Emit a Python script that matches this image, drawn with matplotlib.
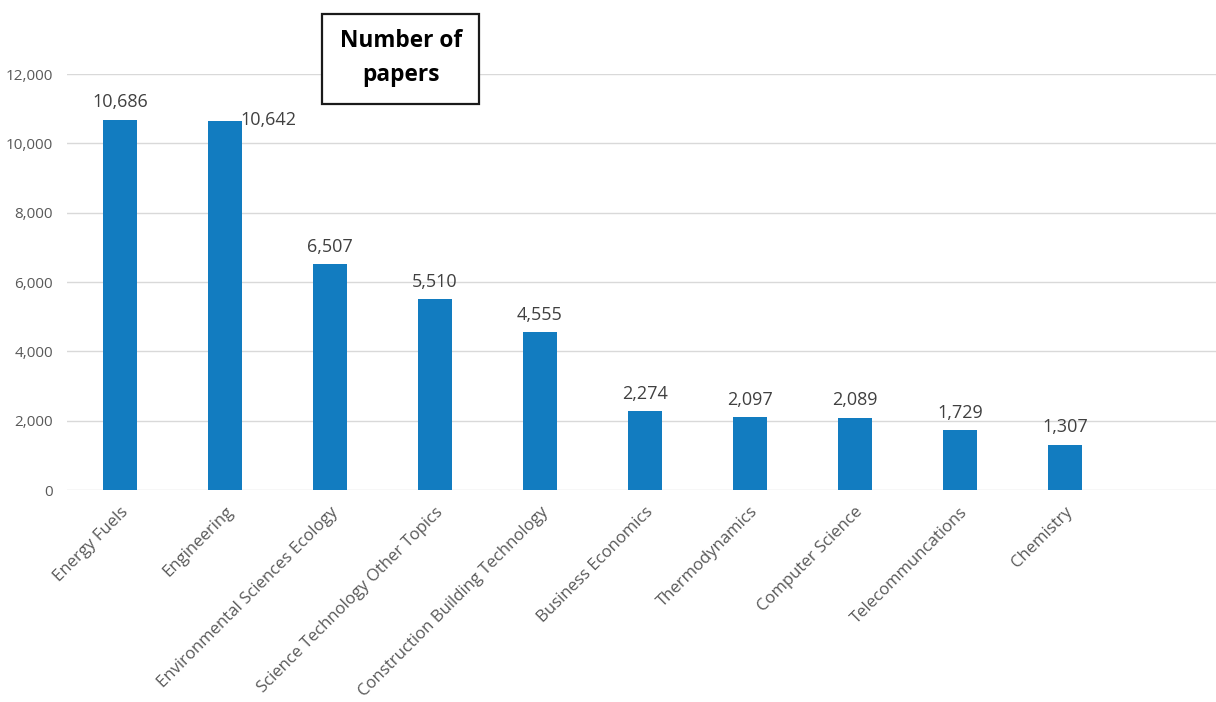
import matplotlib.pyplot as plt
from matplotlib.ticker import FuncFormatter
from matplotlib.patches import Rectangle

categories = ["Energy Fuels", "Engineering", "Environmental Sciences Ecology",
              "Science Technology Other Topics", "Construction Building Technology",
              "Business Economics", "Thermodynamics", "Computer Science",
              "Telecommuncations", "Chemistry"]
papers = [10686, 10642, 6507, 5510, 4555, 2274, 2097, 2089, 1729, 1307]
yticks = [0, 2000, 4000, 6000, 8000, 10000, 12000]

plt.rcParams['font.family'] = ['Open Sans', 'DejaVu Sans']

fig = plt.figure(figsize=(12.16, 7.02), dpi=100)
W, H = 1216, 702
left, right, top, bottom = 67, 1216, 74, 490
ax = fig.add_axes([left / W, 1 - bottom / H, (right - left) / W, (bottom - top) / H])

x = list(range(len(categories)))
ax.bar(x, papers, width=0.324, color='#127CC0', zorder=3)
ax.set_xlim(-0.505, 10.44)
ax.set_ylim(0, 12000)
ax.set_yticks(yticks)
ax.yaxis.set_major_formatter(FuncFormatter(lambda v, p: f"{int(v):,}"))
ax.grid(axis='y', color='#D9D9D9', linewidth=1, zorder=0)
for s in ax.spines.values():
    s.set_visible(False)
ax.tick_params(axis='y', length=0, labelsize=11, labelcolor='#595959', pad=10)
ax.tick_params(axis='x', length=0, labelsize=12.1, labelcolor='#595959', pad=10)
ax.set_xticks(x)
ax.set_xticklabels(categories, rotation=45, ha='right', rotation_mode='anchor')

for i, v in enumerate(papers):
    if i == 1:
        ax.annotate(f"{v:,}", (i + 0.15, v), xytext=(0, 1), textcoords='offset points',
                    ha='left', va='center', fontsize=13, color='#404040')
    else:
        ax.annotate(f"{v:,}", (i, v), xytext=(0, 6), textcoords='offset points',
                    ha='center', va='bottom', fontsize=13, color='#404040')

fig.patches.append(Rectangle((322 / W, 1 - 104 / H), 157 / W, 90 / H,
                             transform=fig.transFigure, fill=True, facecolor='white',
                             edgecolor='#1a1a1a', linewidth=1.6, zorder=5))
fig.text(401 / W, 1 - 58 / H, "Number of\npapers", ha='center', va='center',
         fontsize=16.3, fontweight='bold', color='black', linespacing=1.55, zorder=6)

fig.savefig('out.png', dpi=100)
